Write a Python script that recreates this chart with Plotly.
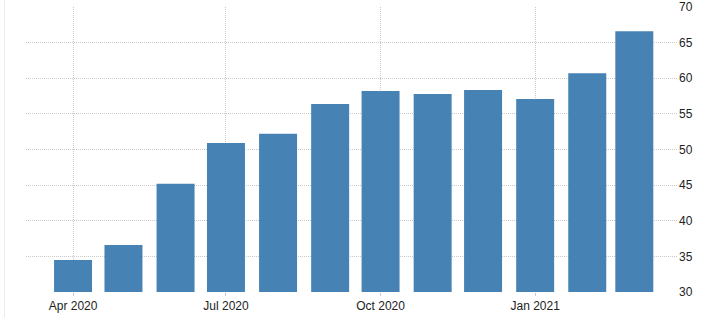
import plotly.graph_objects as go

months = ["2020-04-01", "2020-05-01", "2020-06-01", "2020-07-01", "2020-08-01", "2020-09-01",
          "2020-10-01", "2020-11-01", "2020-12-01", "2021-01-01", "2021-02-01", "2021-03-01"]
values = [34.5, 36.6, 45.2, 50.9, 52.2, 56.4, 58.2, 57.8, 58.35, 57.1, 60.7, 66.6]

y_ticks = [30, 35, 40, 45, 50, 55, 60, 65, 70]

DAY_MS = 86400000

fig = go.Figure(
    go.Bar(
        x=months,
        y=values,
        width=[22.6 * DAY_MS] * len(months),
        marker=dict(color="#4682B4", line=dict(width=0)),
        hoverinfo="x+y",
    )
)

fig.update_layout(
    width=703,
    height=318,
    margin=dict(l=26, r=25, t=7, b=26, autoexpand=False),
    paper_bgcolor="white",
    plot_bgcolor="white",
    showlegend=False,
    font=dict(family="Liberation Sans, Arial, sans-serif", size=12, color="#222"),
    shapes=[
        dict(type="line", xref="paper", yref="paper", x0=-0.033, x1=-0.033, y0=-0.1, y1=1.05,
             line=dict(color="#ececec", width=1)),
    ],
)

fig.update_xaxes(
    type="date",
    range=["2020-03-04", "2021-03-27"],
    tick0="2020-04-01",
    dtick="M3",
    tickformat="%b %Y",
    showgrid=True,
    gridcolor="#c8c8c8",
    griddash="1px,1px",
    gridwidth=1,
    ticks="outside",
    ticklen=3,
    tickcolor="#c8c8c8",
    showline=False,
    zeroline=False,
    automargin=False,
    tickfont=dict(size=12, color="#222"),
)

fig.update_yaxes(
    range=[30, 70],
    tickvals=y_ticks,
    ticktext=[str(v) for v in y_ticks],
    side="right",
    showgrid=True,
    gridcolor="#c8c8c8",
    griddash="1px,1px",
    gridwidth=1,
    zeroline=False,
    showline=False,
    ticks="",
    automargin=False,
    tickfont=dict(size=12, color="#222"),
)

fig.write_html("out.html")
